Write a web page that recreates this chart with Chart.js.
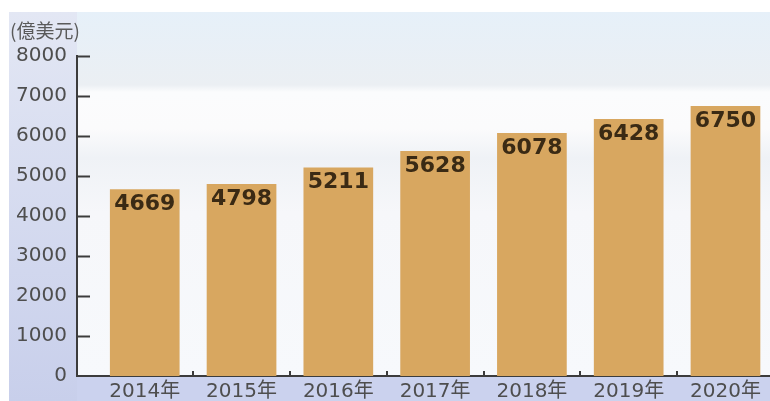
<!DOCTYPE html>
<html>
<head>
<meta charset="utf-8">
<script src="https://cdn.jsdelivr.net/npm/chart.js@4/dist/chart.umd.min.js"></script>
<style>
  html, body { margin: 0; padding: 0; background: #fff; overflow: hidden; }
  #wrap { width: 770px; height: 401px; position: relative; }
</style>
</head>
<body>
<div id="wrap"><canvas id="myChart" width="770" height="401"></canvas></div>
<script>
// data
const years = ['2014年', '2015年', '2016年', '2017年', '2018年', '2019年', '2020年'];
const values = [4669, 4798, 5211, 5628, 6078, 6428, 6750];
const yTicks = [0, 1000, 2000, 3000, 4000, 5000, 6000, 7000, 8000];
const unitLabel = '(億美元)';

const barColor = '#d8a760';
const axisColor = '#3c3c3c';
const textColor = '#4e4e4e';

// background panels behind the chart
const backdrop = {
    id: 'backdrop',
    beforeDraw(chart) {
        const ctx = chart.ctx;
        const area = chart.chartArea;
        const W = chart.width, H = chart.height;
        ctx.save();
        ctx.fillStyle = '#ffffff';
        ctx.fillRect(0, 0, W, H);

        // plot background
        const g = ctx.createLinearGradient(0, 12, 0, area.bottom);
        g.addColorStop(0, '#e6f0f9');
        g.addColorStop(0.2, '#ebeff3');
        g.addColorStop(0.22, '#fbfcfd');
        g.addColorStop(0.32, '#fbfbfc');
        g.addColorStop(0.4, '#eff2f6');
        g.addColorStop(0.55, '#f6f7fa');
        g.addColorStop(1, '#f7f9fc');
        ctx.fillStyle = g;
        ctx.fillRect(area.left, 12, W - area.left, area.bottom - 12);

        // left strip
        const gl = ctx.createLinearGradient(0, 12, 0, H);
        gl.addColorStop(0, '#e3e7f4');
        gl.addColorStop(1, '#c8cfeb');
        ctx.fillStyle = gl;
        ctx.fillRect(9, 12, area.left - 9, H - 12);

        // bottom strip
        ctx.fillStyle = '#cbd2ee';
        ctx.fillRect(area.left, area.bottom, W - area.left, H - area.bottom);
        ctx.restore();
    }
};

// short inward tick marks, value labels and unit
const extras = {
    id: 'extras',
    afterDatasetsDraw(chart) {
        const ctx = chart.ctx;
        const x = chart.scales.x, y = chart.scales.y;
        const area = chart.chartArea;
        ctx.save();
        ctx.strokeStyle = axisColor;
        ctx.lineWidth = 2;
        yTicks.forEach(function (t) {
            if (t === 0) return;
            const py = Math.round(y.getPixelForValue(t)) + 0.5;
            ctx.beginPath();
            ctx.moveTo(area.left, py);
            ctx.lineTo(area.left + 13, py);
            ctx.stroke();
        });
        for (let i = 0; i < years.length - 1; i++) {
            const px = Math.round(x.getPixelForValue(i + 0.5));
            ctx.beginPath();
            ctx.moveTo(px, area.bottom);
            ctx.lineTo(px, area.bottom - 5);
            ctx.stroke();
        }

        const meta = chart.getDatasetMeta(0);
        ctx.fillStyle = '#3a2a14';
        ctx.font = 'bold 22px "DejaVu Sans"';
        ctx.textAlign = 'center';
        ctx.textBaseline = 'middle';
        meta.data.forEach(function (bar, i) {
            ctx.fillText(String(values[i]), bar.x, bar.y + 15);
        });

        ctx.fillStyle = '#5a5a5a';
        ctx.font = '19px "Noto Sans CJK SC"';
        ctx.textAlign = 'left';
        ctx.fillText(unitLabel, 10, 31);
        ctx.restore();
    }
};

const ctx = document.getElementById('myChart').getContext('2d');
new Chart(ctx, {
    type: 'bar',
    data: {
        datasets: [{
            data: values.map(function (v, i) { return { x: i, y: v }; }),
            backgroundColor: barColor,
            borderWidth: 0,
            barPercentage: 0.72,
            categoryPercentage: 1
        }]
    },
    options: {
        responsive: false,
        animation: false,
        layout: { padding: { top: 56, right: 0, left: 0, bottom: 0 } },
        plugins: { legend: { display: false }, tooltip: { enabled: false } },
        scales: {
            x: {
                type: 'linear',
                offset: false,
                min: -0.7,
                max: 6.46,
                afterBuildTicks(scale) {
                    scale.ticks = years.map(function (_, i) { return { value: i }; });
                },
                afterFit(scale) { scale.height = 25; },
                grid: { display: false, drawTicks: false, offset: false },
                border: { display: true, color: axisColor, width: 2 },
                ticks: {
                    autoSkip: false,
                    maxRotation: 0,
                    padding: 4,
                    color: textColor,
                    font: { family: '"DejaVu Sans", "Noto Sans CJK SC"', size: 20 },
                    callback: function (v) { return years[v]; }
                }
            },
            y: {
                min: 0,
                max: 8000,
                afterBuildTicks(scale) {
                    scale.ticks = yTicks.map(function (t) { return { value: t }; });
                },
                afterFit(scale) { scale.width = 77; },
                grid: { display: false, drawTicks: false },
                border: { display: true, color: axisColor, width: 2 },
                ticks: {
                    padding: 10,
                    color: textColor,
                    font: { family: '"DejaVu Sans"', size: 20 },
                    callback: function (v) { return String(v); }
                }
            }
        }
    },
    plugins: [backdrop, extras]
});
</script>
</body>
</html>
